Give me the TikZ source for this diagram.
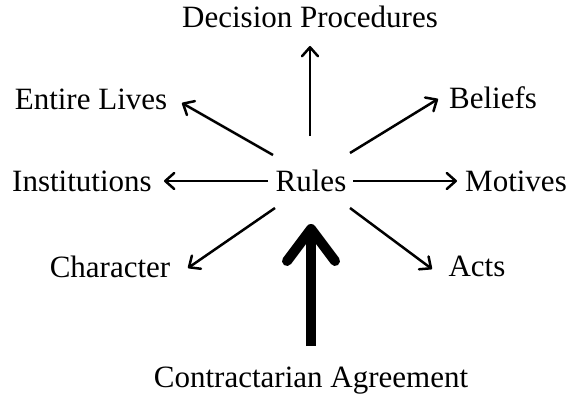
\documentclass[tikz,border=0pt]{standalone}
\usepackage{fontspec}
\setmainfont{Liberation Serif}
\usetikzlibrary{arrows.meta}
\begin{document}
\begin{tikzpicture}[x=1pt,y=-1pt,
  lbl/.style={inner sep=0pt,font=\fontsize{31}{37}\selectfont,anchor=base},
  thin arrow/.style={line width=2.5pt,-{Straight Barb[length=9pt,width=16pt,round]}},
  big arrow/.style={line width=10pt,-{Straight Barb[length=32pt,width=48pt,round]}}]
\useasboundingbox (0,0) rectangle (568,396);
\node[lbl] (dp) at (310,28) {Decision Procedures};
\node[lbl] (el) at (91,110) {Entire Lives};
\node[lbl] (be) at (493,108) {Beliefs};
\node[lbl] (in) at (82,191) {Institutions};
\node[lbl] (ru) at (311,191) {Rules};
\node[lbl] (mo) at (516,191) {Motives};
\node[lbl] (ch) at (110,277) {Character};
\node[lbl] (ac) at (477,276) {Acts};
\node[lbl] (ca) at (311,387) {Contractarian Agreement};
% arrow end points
\coordinate (dpS) at (310,136); \coordinate (dpT) at (310,46);
\coordinate (elS) at (273,155); \coordinate (elT) at (182,103);
\coordinate (beS) at (350,153); \coordinate (beT) at (438,99);
\coordinate (inS) at (268,181); \coordinate (inT) at (164,181);
\coordinate (moS) at (353,181); \coordinate (moT) at (457,181);
\coordinate (chS) at (275,208); \coordinate (chT) at (188,268);
\coordinate (acS) at (350,208); \coordinate (acT) at (432,269);
\coordinate (caS) at (311,346); \coordinate (caT) at (311,224);
\draw[thin arrow] (dpS) -- (dpT);
\draw[thin arrow] (elS) -- (elT);
\draw[thin arrow] (beS) -- (beT);
\draw[thin arrow] (inS) -- (inT);
\draw[thin arrow] (moS) -- (moT);
\draw[thin arrow] (chS) -- (chT);
\draw[thin arrow] (acS) -- (acT);
\draw[big arrow] (caS) -- (caT);
\end{tikzpicture}
\end{document}
